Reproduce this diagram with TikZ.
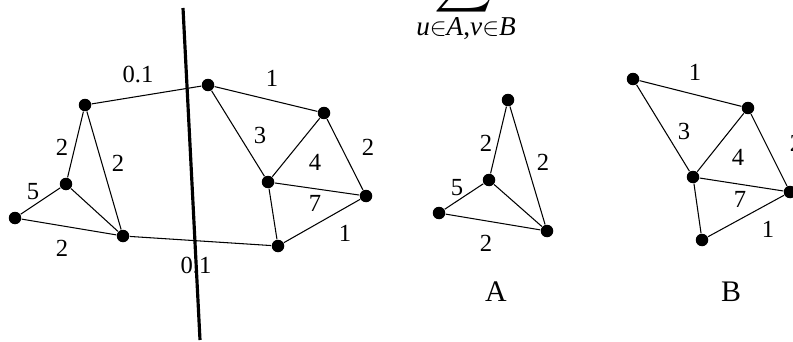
\documentclass[tikz,border=0pt]{standalone}
\usepackage{fontspec}
\setmainfont{Liberation Serif}
\usetikzlibrary{positioning, calc}

\begin{document}
\begin{tikzpicture}[x=0.02cm, y=-0.02cm, line width=0.6pt,
    dot/.style={circle, fill=black, inner sep=0pt, minimum size=0.25cm},
    wt/.style={font=\fontsize{14}{16}\selectfont, inner sep=1pt},
    part/.style={font=\fontsize{17}{19}\selectfont, inner sep=1pt}]
    \useasboundingbox (0,0) rectangle (793,341);
    % Sum over the cut (cropped at the top)
    \node[anchor=south, inner sep=0pt, scale=2.3] (sigma) at (464,17) {$\displaystyle\sum$};
    \node[font=\fontsize{15.5}{17}\selectfont, inner sep=0pt] (sub) at (466,29)
        {\textit{u}$\in$\textit{A},\textit{v}$\in$\textit{B}};

    % Whole graph
    \foreach \n/\x/\y in {n1/85/105, n2/208/85, n3/324/113, n4/268/182, n5/366/196,
                          n6/278/246, n7/123/236, n8/66/184, n9/15/218} {
        \node[dot] (\n) at (\x,\y) {};
    }
    \foreach \a/\b in {n1/n2, n2/n3, n2/n4, n3/n4, n3/n5, n4/n5, n4/n6, n5/n6,
                       n6/n7, n7/n1, n1/n8, n8/n9, n8/n7, n9/n7} {
        \draw (\a) -- (\b);
    }
    \foreach \n/\x/\y/\t in {w1/138/74/0.1, w2/272/78/1, w3/260/135/3, w4/315/162/4,
                             w5/368/147/2, w6/315/203/7, w7/345/233/1, w8/196/265/0.1,
                             w9/62/248/2, w10/33/192/5, w11/62/147/2, w12/118/163/2} {
        \node[wt] (\n) at (\x,\y) {\t};
    }

    % Cut
    \coordinate (cuttop) at (183,8);
    \coordinate (cutbot) at (200,340);
    \draw[line width=1.8pt] (cuttop) -- (cutbot);

    % Part A
    \foreach \n/\x/\y in {a1/508/100, a2/489/180, a3/439/213, a4/547/231} {
        \node[dot] (\n) at (\x,\y) {};
    }
    \foreach \a/\b in {a1/a2, a1/a4, a2/a3, a2/a4, a3/a4} {
        \draw (\a) -- (\b);
    }
    \foreach \n/\x/\y/\t in {aw1/486/143/2, aw2/543/162/2, aw3/457/188/5, aw4/486/243/2} {
        \node[wt] (\n) at (\x,\y) {\t};
    }
    \node[part] (labA) at (496,292) {A};

    % Part B
    \foreach \n/\x/\y in {b1/633/79, b2/748/108, b3/693/177, b4/790/192, b5/702/240} {
        \node[dot] (\n) at (\x,\y) {};
    }
    \foreach \a/\b in {b1/b2, b1/b3, b2/b3, b2/b4, b3/b4, b3/b5, b4/b5} {
        \draw (\a) -- (\b);
    }
    \foreach \n/\x/\y/\t in {bw1/695/72/1, bw2/684/131/3, bw3/738/157/4, bw4/796/143/2,
                             bw5/740/199/7, bw6/768/229/1} {
        \node[wt] (\n) at (\x,\y) {\t};
    }
    \node[part] (labB) at (731,292) {B};
\end{tikzpicture}
\end{document}
